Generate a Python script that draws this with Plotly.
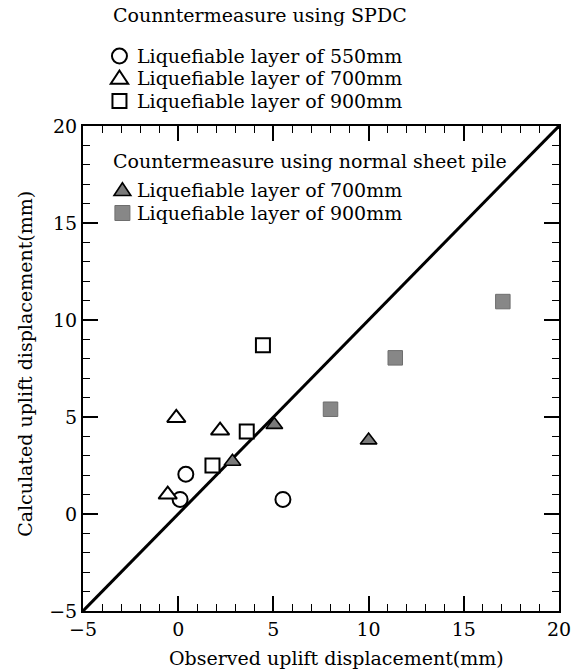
import plotly.graph_objects as go

# SPDC countermeasure (open markers)
spdc550_obs = [0.1, 0.4, 5.5]
spdc550_calc = [0.75, 2.05, 0.75]
spdc700_obs = [-0.55, -0.1, 2.2]
spdc700_calc = [1.0, 4.95, 4.3]
spdc900_obs = [1.8, 3.6, 4.45]
spdc900_calc = [2.5, 4.25, 8.7]
# normal sheet pile (filled markers)
sheet700_obs = [2.85, 5.05, 10.0]
sheet700_calc = [2.7, 4.6, 3.8]
sheet900_obs = [8.0, 11.4, 17.05]
sheet900_calc = [5.4, 8.05, 10.95]
line_x = [-5, 20]
line_y = [-5, 20]

legend1_title = "Counntermeasure using SPDC"
legend1_labels = ["Liquefiable layer of 550mm", "Liquefiable layer of 700mm", "Liquefiable layer of 900mm"]
legend2_title = "Countermeasure using normal sheet pile"
legend2_labels = ["Liquefiable layer of 700mm", "Liquefiable layer of 900mm"]
x_title = "Observed uplift displacement(mm)"
y_title = "Calculated uplift displacement(mm)"

FONT = "DejaVu Serif"
FS = 19
W, H = 583, 672
L, R, T, B = 83, 17, 126, 61
PW, PH = W - L - R, H - T - B

def px2paper(x, y):
    return (x - L) / PW, (H - B - y) / PH

styles = [
    dict(symbol="circle", size=15, color="white", line=dict(color="black", width=2)),
    dict(symbol="triangle-up", size=16, color="white", line=dict(color="black", width=2)),
    dict(symbol="square", size=14, color="white", line=dict(color="black", width=2)),
    dict(symbol="triangle-up", size=14.5, color="#7a7a7a", line=dict(color="black", width=1.6)),
    dict(symbol="square", size=14.5, color="#878787", line=dict(color="#6e6e6e", width=1)),
]

fig = go.Figure()
fig.add_trace(go.Scatter(x=line_x, y=line_y, mode="lines",
                         line=dict(color="black", width=3), showlegend=False))

series = [(spdc550_obs, spdc550_calc), (spdc700_obs, spdc700_calc), (spdc900_obs, spdc900_calc),
          (sheet700_obs, sheet700_calc), (sheet900_obs, sheet900_calc)]
for (xs, ys), st in zip(series, styles):
    fig.add_trace(go.Scatter(x=xs, y=ys, mode="markers", marker=st, showlegend=False))

# manual legend symbols drawn as pixel-sized shapes anchored in paper space
leg_rows = [(120, 56), (120, 78), (120, 101), (123, 190), (123, 213)]
shapes = []
def sym(kind, cx, cy, s, fill, lc, lw):
    ax, ay = px2paper(cx, cy)
    base = dict(xref="paper", yref="paper", xsizemode="pixel", ysizemode="pixel",
                xanchor=ax, yanchor=ay, fillcolor=fill, line=dict(color=lc, width=lw), layer="above")
    h = s / 2
    if kind == "circle":
        base.update(type="circle", x0=-h, x1=h, y0=-h, y1=h)
    elif kind == "square":
        base.update(type="rect", x0=-h, x1=h, y0=-h, y1=h)
    else:
        w = s * 0.58
        base.update(type="path",
                    path=f"M {-w} {-s*0.38} L {w} {-s*0.38} L 0 {s*0.5} Z")
    shapes.append(base)

sym("circle", *leg_rows[0], 15, "white", "black", 2)
sym("tri", *leg_rows[1], 15, "white", "black", 2)
sym("square", *leg_rows[2], 14, "white", "black", 2)
sym("tri", *leg_rows[3], 14.5, "#7a7a7a", "black", 1.6)
sym("square", *leg_rows[4], 15, "#878787", "#6e6e6e", 1)

ann = []
def txt(x, y, s, **kw):
    ax, ay = px2paper(x, y)
    d = dict(x=ax, y=ay, xref="paper", yref="paper", text=s, showarrow=False,
             xanchor="left", yanchor="middle",
             font=dict(family=FONT, size=FS, color="black"))
    d.update(kw)
    ann.append(d)

txt(111, 15, legend1_title)
for lab, (px, py) in zip(legend1_labels, leg_rows[:3]):
    txt(136, py, lab)
txt(111, 161, legend2_title)
for lab, (px, py) in zip(legend2_labels, leg_rows[3:]):
    txt(136, py, lab)
txt(340, 658, x_title, xanchor="center")
txt(24, 364, y_title, xanchor="center", textangle=-90)

axis_common = dict(
    range=[-5, 20], dtick=5, tick0=0, ticks="inside", ticklen=15, tickwidth=1.6,
    tickcolor="black", showline=True, linecolor="black", linewidth=2,
    mirror="ticks", showgrid=False, zeroline=False,
    tickfont=dict(family=FONT, size=FS, color="black"),
    minor=dict(dtick=1, ticks="inside", ticklen=7, tickwidth=1.4, tickcolor="black", showgrid=False),
)

fig.update_layout(
    width=W, height=H,
    margin=dict(l=L, r=R, t=T, b=B),
    paper_bgcolor="white", plot_bgcolor="white",
    font=dict(family=FONT, size=FS, color="black"),
    showlegend=False,
    xaxis=dict(**axis_common),
    yaxis=dict(**axis_common),
    annotations=ann,
    shapes=shapes,
)

fig.write_html("out.html")
